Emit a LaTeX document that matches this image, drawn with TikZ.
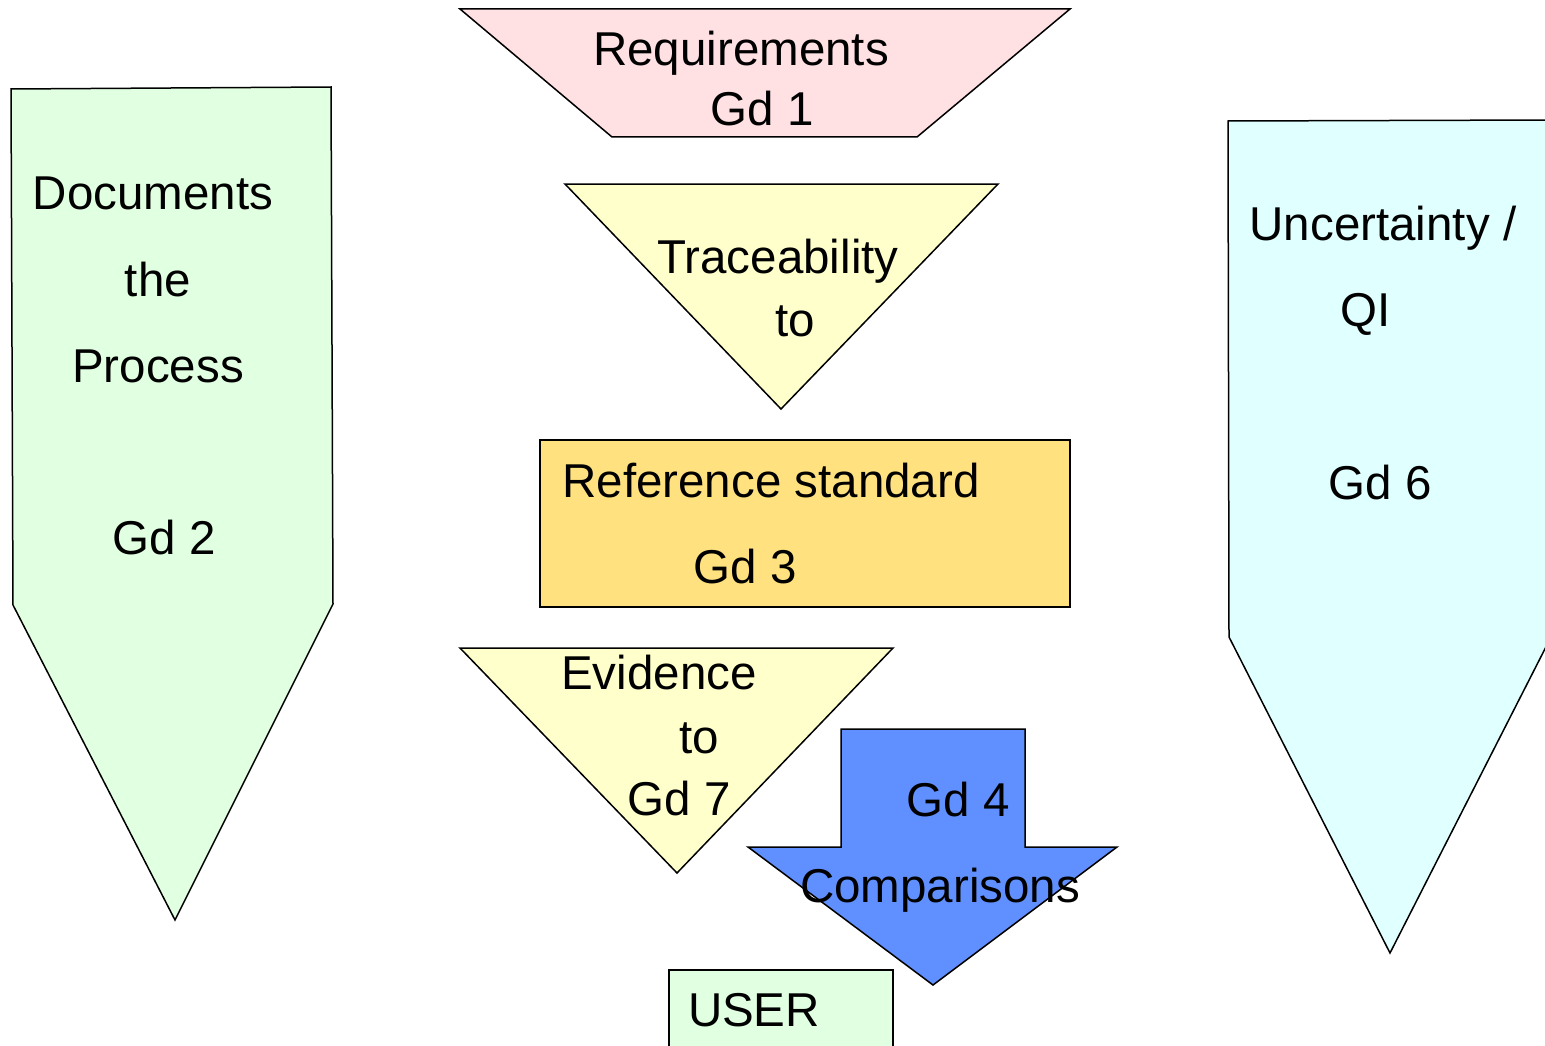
\documentclass[tikz,border=0pt]{standalone}
\usepackage{fontspec}
\setmainfont{Liberation Sans}
\definecolor{reqpink}{HTML}{FFE1E4}
\definecolor{docgreen}{HTML}{E1FFE1}
\definecolor{unccyan}{HTML}{E0FFFF}
\definecolor{tracyellow}{HTML}{FFFFCC}
\definecolor{refgold}{HTML}{FFE27F}
\definecolor{cmpblue}{HTML}{6090FF}
\begin{document}
\begin{tikzpicture}[x=1pt,y=-1pt,
  shapeline/.style={draw=black,line width=1.5pt,line join=miter},
  lbl/.style={anchor=base,inner sep=0pt,font=\fontsize{47.5}{56}\selectfont}]
\useasboundingbox (0,0) rectangle (1545,1046);
\clip (0,0) rectangle (1545,1046);

% Requirements (Gd 1)
\path[shapeline,fill=reqpink] (460,9) -- (1070,9) -- (917,137) -- (612,137) -- cycle;
\node[lbl] (req) at (741,66) {Requirements};
\node[lbl] (gd1) at (762,126) {Gd 1};

% Documents the process (Gd 2)
\path[shapeline,fill=docgreen] (11,89) -- (331,87) -- (333,604) -- (175,920) -- (13,605) -- cycle;
\node[lbl] (doc) at (153,209) {Documents};
\node[lbl] (the) at (158,296) {the};
\node[lbl] (proc) at (158,382) {Process};
\node[lbl] (gd2) at (164,554) {Gd 2};

% Traceability
\path[shapeline,fill=tracyellow] (565,184) -- (998,184) -- (781,409) -- cycle;
\node[lbl] (trace) at (778,273) {Traceability};
\node[lbl] (traceto) at (795,336) {to};

% Reference standard (Gd 3)
\path[shapeline,fill=refgold] (540,440) rectangle (1070,607);
\node[lbl] (ref) at (771,497) {Reference standard};
\node[lbl] (gd3) at (745,583) {Gd 3};

% Evidence to Gd 7
\path[shapeline,fill=tracyellow] (460,648) -- (893,648) -- (677,873) -- cycle;
\node[lbl] (evid) at (659,689) {Evidence};
\node[lbl] (evidto) at (699,753) {to};
\node[lbl] (gd7) at (679,815) {Gd 7};

% Comparisons (Gd 4)
\path[shapeline,fill=cmpblue] (841,729) -- (1025,729) -- (1025,847) -- (1117,847)
  -- (933,985) -- (748,847) -- (841,847) -- cycle;
\node[lbl] (gd4) at (958,816) {Gd 4};
\node[lbl] (cmp) at (940,902) {Comparisons};

% USER
\path[shapeline,fill=docgreen] (669,970) rectangle (893,1060);
\node[lbl] (user) at (754,1026) {USER};

% Uncertainty / QI (Gd 6)
\path[shapeline,fill=unccyan] (1228,121) -- (1551,120) -- (1551,637) -- (1390,953) -- (1229,637) -- cycle;
\node[lbl] (unc) at (1383,240) {Uncertainty /};
\node[lbl] (qi) at (1366,326) {QI};
\node[lbl] (gd6) at (1380,499) {Gd 6};
\end{tikzpicture}
\end{document}
